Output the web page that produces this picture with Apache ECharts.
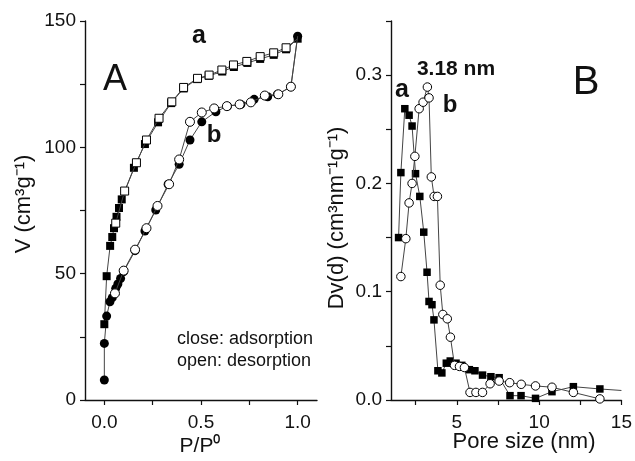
<!DOCTYPE html>
<html>
<head>
<meta charset="utf-8">
<script src="https://cdn.jsdelivr.net/npm/echarts@6/dist/echarts.min.js"></script>
<style>
  html, body { margin: 0; padding: 0; background: #fff; }
  #chart { width: 635px; height: 461px; }
</style>
</head>
<body>
<div id="chart"></div>
<script>
// panel A: N2 isotherms, [P/P0, V]
const aAds = [[0, 30], [0.012, 49], [0.03, 61], [0.041, 64.5], [0.05, 68], [0.063, 72.5], [0.076, 76], [0.09, 79.4],
  [0.153, 91.9], [0.21, 101.3], [0.278, 109.9], [0.345, 117.5], [0.41, 123.3], [0.48, 127], [0.54, 128.3],
  [0.61, 130], [0.67, 131.8], [0.74, 133.4], [0.806, 135], [0.876, 136.6], [0.94, 138.8], [1.0, 143]]
const aDes = [[0.94, 139.4], [0.876, 137.4], [0.806, 135.9], [0.737, 134], [0.668, 132.6], [0.608, 130.6],
  [0.542, 128.6], [0.482, 127.3], [0.41, 123.7], [0.349, 118], [0.283, 111.5], [0.218, 102.9], [0.166, 93.9],
  [0.105, 82.7], [0.059, 70]]
const bAds = [[0, 7.9], [0, 22.4], [0.012, 33.2], [0.029, 38.9], [0.041, 40.5], [0.059, 44.2], [0.07, 45.9],
  [0.084, 48.1], [0.1, 50.8], [0.159, 59.1], [0.21, 66.9], [0.266, 75.2], [0.33, 85.4], [0.387, 93.3],
  [0.443, 102.9], [0.504, 110.1], [0.577, 114.1], [0.637, 116.3], [0.706, 117], [0.775, 119], [0.845, 120],
  [0.896, 121], [0.965, 124], [1.0, 144]]
const bDes = [[0.965, 124], [0.9, 121], [0.83, 120.5], [0.758, 117.8], [0.7, 117], [0.634, 116.3], [0.568, 115.4],
  [0.504, 113.8], [0.443, 110.1], [0.387, 95.2], [0.335, 85.4], [0.275, 76.8], [0.218, 68], [0.159, 59.5],
  [0.1, 51.2], [0.055, 42.2]]

// panel B: pore size distribution, [nm, Dv(d)]
const aPsd = [[1.46, 0.150], [1.6, 0.21], [1.84, 0.269], [2.1, 0.263], [2.28, 0.253], [2.49, 0.209], [2.75, 0.188],
  [2.99, 0.155], [3.19, 0.118], [3.31, 0.091], [3.49, 0.088], [3.61, 0.074], [3.85, 0.027], [4.09, 0.025],
  [4.36, 0.034], [4.6, 0.036], [4.95, 0.034], [5.3, 0.032], [5.76, 0.028], [6.1, 0.027], [6.56, 0.023],
  [7.07, 0.0215], [7.57, 0.0206], [8.23, 0.004], [8.9, 0.004], [9.78, 0.0015], [10.78, 0.0077], [12.08, 0.0123],
  [13.69, 0.0102], [15, 0.0088]]
const bPsd = [[1.6, 0.114], [1.9, 0.149], [2.1, 0.182], [2.28, 0.2], [2.45, 0.225], [2.71, 0.269], [2.95, 0.275],
  [3.21, 0.289], [3.31, 0.279], [3.45, 0.206], [3.62, 0.188], [3.82, 0.188], [3.99, 0.106], [4.15, 0.079],
  [4.42, 0.075], [4.61, 0.058], [4.86, 0.032], [5.16, 0.031], [5.46, 0.030], [5.8, 0.007], [6.16, 0.007],
  [6.56, 0.007], [7.02, 0.015], [7.57, 0.0175], [8.21, 0.016], [8.91, 0.0145], [9.78, 0.013], [10.78, 0.0118],
  [12.08, 0.007], [13.69, 0.001]]

const axTicksA = [0, 0.25, 0.5, 0.75, 1.0]
const axLabelsA = [0, 0.5, 1.0]
const axTicksB = [2.5, 5, 7.5, 10, 12.5, 15]
const axLabelsB = [5, 10, 15]

const font = 'Liberation Sans, Arial, sans-serif'
const mychart = echarts.init(document.getElementById('chart'))

// fresh style objects for every axis
const axLine = () => ({ show: true, onZero: false, lineStyle: { color: '#111', width: 1.4 } })
const axTick = extra => Object.assign({ show: true, length: 5, lineStyle: { color: '#111', width: 1.2 } }, extra || {})
const axLabel = extra => Object.assign({ color: '#111', fontSize: 19, fontFamily: font }, extra || {})

// filled = adsorption, open = desorption; the first point of the open curve (shared end point) has no symbol
function line(name, data, idx, symbol, size, open, noSymbolAt) {
  const pts = data.map((p, i) => (i === noSymbolAt ? { value: p, symbol: 'none' } : p))
  return {
    type: 'line', name, data: pts, xAxisIndex: idx, yAxisIndex: idx,
    symbol, symbolSize: size, showAllSymbol: true, clip: true,
    lineStyle: { color: '#444', width: 1 },
    itemStyle: open ? { color: '#fff', borderColor: '#000', borderWidth: 1 } : { color: '#000', borderWidth: 0 },
    z: open ? 3 : 2,
  }
}

const txt = (x, y, text, size, bold, extra) => Object.assign({
  type: 'text', x, y,
  style: { text, fontSize: size, fontWeight: bold ? 'bold' : 'normal', fontFamily: font, fill: '#111',
    align: 'center', verticalAlign: 'middle' },
}, extra || {})
const leftTxt = (x, y, text, size) => ({
  type: 'text', x, y,
  style: { text, fontSize: size, fontFamily: font, fill: '#111', align: 'left', verticalAlign: 'middle' },
})

mychart.setOption({
  animation: false,
  grid: [
    { left: 85, top: 21, width: 232, height: 379 },
    { left: 391, top: 21, width: 231, height: 379 },
  ],
  xAxis: [
    {
      type: 'value', gridIndex: 0, min: -0.1, max: 1.1, splitLine: { show: false },
      axisLine: axLine(),
      axisTick: axTick({ customValues: axTicksA }),
      axisLabel: axLabel({ customValues: axLabelsA, margin: 13, formatter: v => v.toFixed(1) }),
    },
    {
      type: 'value', gridIndex: 1, min: 1, max: 15, splitLine: { show: false },
      axisLine: axLine(),
      axisTick: axTick({ customValues: axTicksB }),
      axisLabel: axLabel({ customValues: axLabelsB, margin: 13 }),
    },
  ],
  yAxis: [
    {
      type: 'value', gridIndex: 0, min: 0, max: 150, interval: 25, splitLine: { show: false },
      axisLine: axLine(),
      axisTick: axTick(),
      axisLabel: axLabel({ margin: 9, formatter: v => (v % 50 === 0 ? String(v) : '') }),
    },
    {
      type: 'value', gridIndex: 1, min: 0, max: 0.35, interval: 0.05, splitLine: { show: false },
      axisLine: axLine(),
      axisTick: axTick(),
      axisLabel: axLabel({ margin: 9, formatter: v => (Math.abs(v * 10 - Math.round(v * 10)) < 1e-6 ? v.toFixed(1) : '') }),
    },
  ],
  series: [
    line('a adsorption', aAds, 0, 'rect', 8, false),
    line('a desorption', [aAds[aAds.length - 1]].concat(aDes), 0, 'rect', 8, true, 0),
    line('b adsorption', bAds, 0, 'circle', 9, false),
    line('b desorption', [bAds[bAds.length - 1]].concat(bDes), 0, 'circle', 9, true, 0),
    line('a', aPsd, 1, 'rect', 7.5, false, aPsd.length - 1),
    line('b', bPsd, 1, 'circle', 8.5, true),
  ],
  graphic: [
    txt(115, 80, 'A', 36, false),
    txt(199, 36, 'a', 25, true),
    txt(214, 135, 'b', 24, true),
    leftTxt(177, 339, 'close: adsorption', 18),
    leftTxt(177, 361, 'open: desorption', 18),
    txt(586, 83, 'B', 40, false),
    txt(456, 69, '3.18 nm', 21, true),
    txt(402, 90, 'a', 25, true),
    txt(450, 105, 'b', 24, true),
    txt(200, 446, 'P/P\u2070', 21, false),
    txt(524, 442, 'Pore size (nm)', 22, false),
    txt(24, 204, 'V (cm\u00b3g\u207b\u00b9)', 22, false, { rotation: Math.PI / 2 }),
    txt(337, 218, 'Dv(d) (cm\u00b3nm\u207b\u00b9g\u207b\u00b9)', 22, false, { rotation: Math.PI / 2 }),
  ],
})
</script>
</body>
</html>
